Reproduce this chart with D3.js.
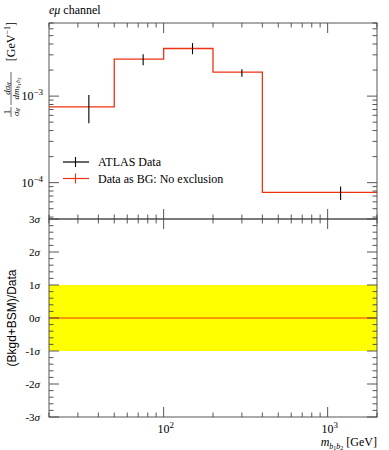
<!DOCTYPE html>
<html>
<head>
<meta charset="utf-8">
<script src="https://cdn.jsdelivr.net/npm/d3@7"></script>
<style>
  body { margin: 0; background: #fff; }
  text { font-family: "Liberation Serif", serif; fill: #000; }
</style>
</head>
<body>
<svg width="389" height="450"></svg>
<script>
// bin edges and values
var binEdges = [20, 50, 100, 200, 400, 2000];
var mcValues = [7.5e-4, 2.67e-3, 3.55e-3, 1.89e-3, 7.7e-5];
var dataX = [35, 75, 150, 300, 1200];
var dataLo = [4.85e-4, 2.28e-3, 3.05e-3, 1.68e-3, 6.3e-5];
var dataHi = [1.03e-3, 3.05e-3, 4.1e-3, 2.05e-3, 9.0e-5];
var sigmaLabels = [-3, -2, -1, 0, 1, 2, 3];
var legendLabels = ["ATLAS Data", "Data as BG: No exclusion"];

var svg = d3.select("svg"),
    left = 49, right = 377,
    topY = 23, midY = 219, botY = 417;

var red = "#ee3311";

var x = d3.scaleLog().domain([20, 2000]).range([left, right]);
var y = d3.scaleLog().domain([3.8e-5, 7e-3]).range([midY, topY]);
var y2 = d3.scaleLinear().domain([-3, 3]).range([botY, midY]);

var isDecade = function (v) {
  var l = Math.log10(v);
  return Math.abs(l - Math.round(l)) < 1e-6;
};

// ratio band
svg.append("rect")
  .attr("x", left).attr("width", right - left)
  .attr("y", y2(1)).attr("height", y2(-1) - y2(1))
  .attr("fill", "#ffff00");
svg.append("line")
  .attr("x1", left).attr("x2", right)
  .attr("y1", y2(0)).attr("y2", y2(0))
  .attr("stroke", red).attr("stroke-width", 1.2);

// step histogram
var steps = [];
mcValues.forEach(function (v, i) {
  steps.push([binEdges[i], v]);
  steps.push([binEdges[i + 1], v]);
});
svg.append("path")
  .attr("d", d3.line().x(function (d) { return x(d[0]); }).y(function (d) { return y(d[1]); })(steps))
  .attr("fill", "none").attr("stroke", red).attr("stroke-width", 1.3);

// data error bars
svg.selectAll(".err")
  .data(dataX)
  .enter().append("line")
  .attr("class", "err")
  .attr("x1", function (d) { return x(d); })
  .attr("x2", function (d) { return x(d); })
  .attr("y1", function (d, i) { return y(dataHi[i]); })
  .attr("y2", function (d, i) { return y(dataLo[i]); })
  .attr("stroke", "#000").attr("stroke-width", 1.1);

// frames
var frameColor = "#444";
[[topY, midY], [midY, botY]].forEach(function (p) {
  svg.append("rect")
    .attr("x", left).attr("y", p[0])
    .attr("width", right - left).attr("height", p[1] - p[0])
    .attr("fill", "none").attr("stroke", frameColor).attr("stroke-width", 0.9);
});

// x ticks on all horizontal edges
var xt = x.ticks();
[[topY, 1], [midY, -1], [midY, 1], [botY, -1]].forEach(function (e) {
  svg.append("g").selectAll("line")
    .data(xt)
    .enter().append("line")
    .attr("x1", function (d) { return x(d); })
    .attr("x2", function (d) { return x(d); })
    .attr("y1", e[0])
    .attr("y2", function (d) { return e[0] + e[1] * (isDecade(d) ? 10 : 4.5); })
    .attr("stroke", frameColor).attr("stroke-width", 0.9);
});

// y ticks top panel
var yt = y.ticks();
[[left, 1], [right, -1]].forEach(function (e) {
  svg.append("g").selectAll("line")
    .data(yt)
    .enter().append("line")
    .attr("y1", function (d) { return y(d); })
    .attr("y2", function (d) { return y(d); })
    .attr("x1", e[0])
    .attr("x2", function (d) { return e[0] + e[1] * (isDecade(d) ? 10 : 4.5); })
    .attr("stroke", frameColor).attr("stroke-width", 0.9);
});

// y ticks ratio panel
var y2t = y2.ticks(30);
[[left, 1], [right, -1]].forEach(function (e) {
  svg.append("g").selectAll("line")
    .data(y2t)
    .enter().append("line")
    .attr("y1", function (d) { return y2(d); })
    .attr("y2", function (d) { return y2(d); })
    .attr("x1", e[0])
    .attr("x2", function (d) { return e[0] + e[1] * (Math.abs(d - Math.round(d)) < 1e-6 ? 10 : 4.5); })
    .attr("stroke", frameColor).attr("stroke-width", 0.9);
});

// top y tick labels
yt.filter(isDecade).forEach(function (d) {
  var t = svg.append("text")
    .attr("x", left - 6).attr("y", y(d) + 4)
    .attr("text-anchor", "end").style("font-size", "12px");
  t.append("tspan").text("10");
  t.append("tspan").attr("dy", -5).style("font-size", "9px").text("\u2212" + Math.abs(Math.round(Math.log10(d))));
});

// sigma labels
sigmaLabels.forEach(function (d) {
  var t = svg.append("text")
    .attr("x", left - 9).attr("y", y2(d) + 3.5)
    .attr("text-anchor", "end").style("font-size", "11px");
  t.append("tspan").text((d < 0 ? "-" : "") + Math.abs(d));
  t.append("tspan").style("font-style", "italic").text("\u03c3");
});

// x tick labels
xt.filter(isDecade).forEach(function (d) {
  var t = svg.append("text")
    .attr("x", x(d) + 2).attr("y", botY + 16)
    .attr("text-anchor", "middle").style("font-size", "12px");
  t.append("tspan").text("10");
  t.append("tspan").attr("dy", -5).style("font-size", "9px").text(Math.round(Math.log10(d)));
});

// x axis label
var xl = svg.append("text")
  .attr("x", right).attr("y", botY + 29)
  .attr("text-anchor", "end").style("font-size", "12px");
xl.append("tspan").style("font-style", "italic").text("m");
xl.append("tspan").attr("dy", 2.5).style("font-size", "8px").style("font-style", "italic").text("b");
xl.append("tspan").attr("dy", 1.5).style("font-size", "6px").text("1");
xl.append("tspan").attr("dy", -1.5).style("font-size", "8px").style("font-style", "italic").text("b");
xl.append("tspan").attr("dy", 1.5).style("font-size", "6px").text("2");
xl.append("tspan").attr("dy", -4).text(" [GeV]");

// title
var title = svg.append("text").attr("x", left).attr("y", 14).style("font-size", "12px");
title.append("tspan").style("font-style", "italic").text("e\u03bc");
title.append("tspan").text(" channel");

// top y axis label (rotated), local x runs up the page
var yl = svg.append("g").attr("transform", "translate(11,0) rotate(-90)");
// 1 / sigma_ttbar
yl.append("text").attr("x", -112).attr("y", -1.5).attr("text-anchor", "middle")
  .style("font-size", "9px").text("1");
var s1 = yl.append("text").attr("x", -112).attr("y", 7.5).attr("text-anchor", "middle").style("font-size", "9px");
s1.append("tspan").style("font-style", "italic").text("\u03c3");
s1.append("tspan").attr("dy", 1.5).style("font-size", "6px").style("font-style", "italic").text("tt\u0304");
yl.append("line").attr("x1", -117).attr("x2", -107).attr("y1", 0).attr("y2", 0)
  .attr("stroke", "#000").attr("stroke-width", 0.6);
// d sigma / d m
var n2 = yl.append("text").attr("x", -88.5).attr("y", -1.5).attr("text-anchor", "middle").style("font-size", "9px");
n2.append("tspan").style("font-style", "italic").text("d\u03c3");
n2.append("tspan").attr("dy", 1.5).style("font-size", "6px").style("font-style", "italic").text("tt\u0304");
var d2 = yl.append("text").attr("x", -88.5).attr("y", 7.5).attr("text-anchor", "middle").style("font-size", "9px");
d2.append("tspan").style("font-style", "italic").text("dm");
d2.append("tspan").attr("dy", 1.5).style("font-size", "6px").style("font-style", "italic").text("b");
d2.append("tspan").attr("dy", 1).style("font-size", "5px").text("1");
d2.append("tspan").attr("dy", -1).style("font-size", "6px").style("font-style", "italic").text("b");
d2.append("tspan").attr("dy", 1).style("font-size", "5px").text("2");
yl.append("line").attr("x1", -105).attr("x2", -72).attr("y1", 0).attr("y2", 0)
  .attr("stroke", "#000").attr("stroke-width", 0.6);
var g2 = yl.append("text").attr("x", -22).attr("y", 4).attr("text-anchor", "end").style("font-size", "12px");
g2.append("tspan").text("[GeV");
g2.append("tspan").attr("dy", -5).style("font-size", "8px").text("\u22121");
g2.append("tspan").attr("dy", 5).text("]");

// ratio y label
svg.append("text")
  .attr("transform", "translate(16," + y2(0) + ") rotate(-90)")
  .attr("text-anchor", "middle")
  .style("font-family", "'Liberation Sans', Arial, sans-serif")
  .style("font-size", "12px")
  .text("(Bkgd+BSM)/Data");

// legend
var legColors = ["#000", red];
legendLabels.forEach(function (lab, i) {
  var ly = 162 + i * 16.5;
  var g = svg.append("g");
  g.append("line").attr("x1", 63).attr("x2", 89).attr("y1", ly).attr("y2", ly)
    .attr("stroke", legColors[i]).attr("stroke-width", 1.2);
  g.append("line").attr("x1", 75.5).attr("x2", 75.5).attr("y1", ly - 5).attr("y2", ly + 5)
    .attr("stroke", legColors[i]).attr("stroke-width", 1.1);
  g.append("text").attr("x", 98).attr("y", ly + 4).style("font-size", "12px").text(lab);
});
</script>
</body>
</html>
